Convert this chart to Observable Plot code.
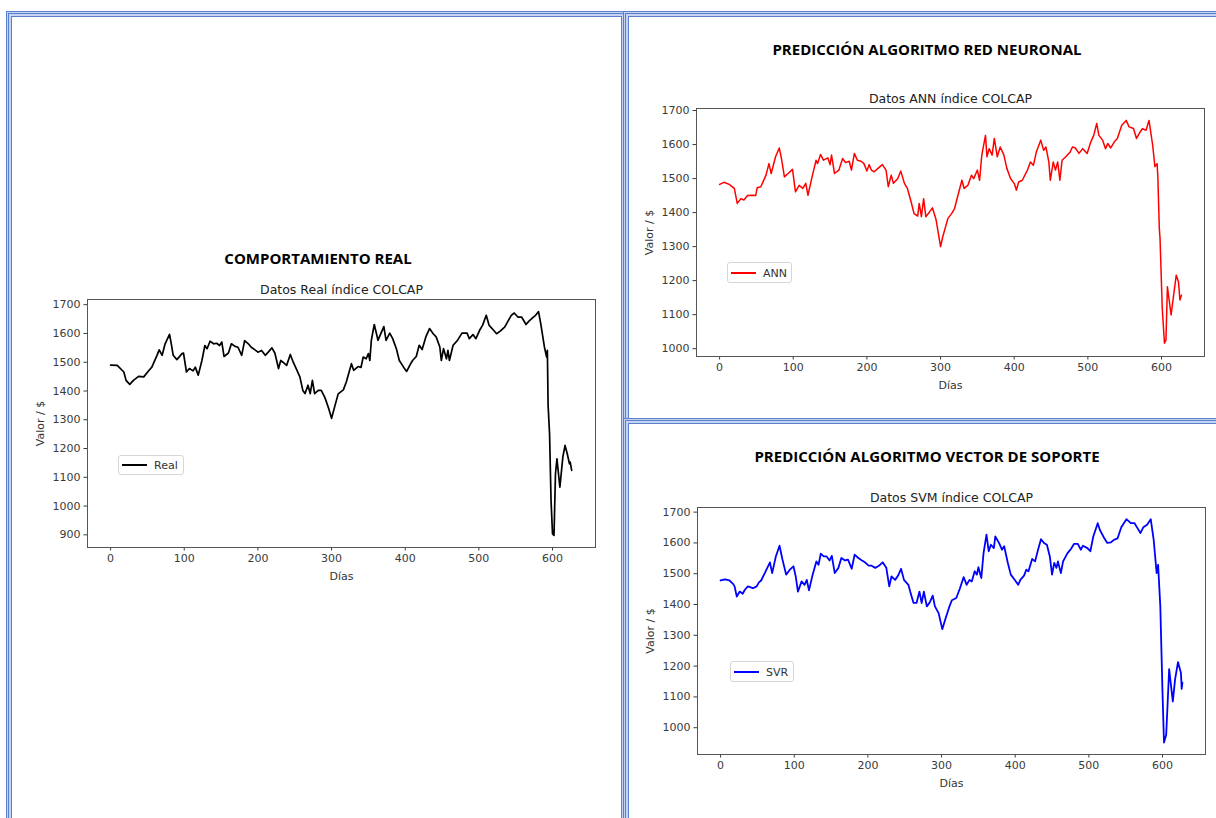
<!DOCTYPE html>
<html><head><meta charset="utf-8">
<script src="https://cdn.jsdelivr.net/npm/d3@7"></script>
<script src="https://cdn.jsdelivr.net/npm/@observablehq/plot@0.6"></script>
<style>
html,body{margin:0;padding:0;background:#fff;}
#page{position:relative;width:1216px;height:818px;overflow:hidden;background:#fff;}
.panel{position:absolute;box-sizing:border-box;border:1px solid #5b7fcf;
  box-shadow:inset 0 0 0 1px #c5d4f2, inset 0 0 0 2px #5b7fcf, inset 0 0 0 4px #c5d4f2, inset 0 0 0 5px #5b7fcf;background:#fff;}
.sec{position:absolute;transform:translate(-50%,-50%);font-family:"Open Sans";font-weight:700;font-size:15px;color:#000;white-space:nowrap;}
.chart{position:absolute;}
.legend{position:absolute;box-sizing:border-box;border:1px solid #d6d6d6;border-radius:3px;background:#fff;font-family:"DejaVu Sans";font-size:11px;color:#333;}
.legend .sw{position:absolute;height:2px;}
.legend .lb{position:absolute;transform:translateY(-50%);line-height:1;}
</style>
</head><body>
<div id="page"></div>
<script>
// ---------- data ----------
const xTicks = [0, 100, 200, 300, 400, 500, 600];
const yTicksReal = [900, 1000, 1100, 1200, 1300, 1400, 1500, 1600, 1700];
const yTicksPred = [1000, 1100, 1200, 1300, 1400, 1500, 1600, 1700];

const realDays = [0,9,18,21,26,31,38,45,52,56,63,66,70,74,80,82,85,90,97,99,103,107,112,115,119,124,128,131,135,140,144,148,151,154,160,164,169,173,178,182,187,191,196,200,205,210,214,219,223,228,231,234,239,244,248,252,257,261,264,268,271,274,277,282,286,291,296,300,304,309,316,320,327,330,336,340,343,347,350,352,354,358,361,363,365,371,374,379,383,388,392,398,402,406,410,415,419,423,428,433,438,442,447,449,452,456,458,460,465,471,477,484,487,492,496,501,505,510,514,520,524,529,535,539,544,548,553,558,564,568,574,577,581,584,589,592,593,594,596,598,600,602,604,606,610,614,617,620,623,624,626];
const realValues = [1490,1489,1466,1437,1423,1437,1451,1449,1471,1483,1524,1543,1524,1564,1597,1570,1524,1509,1530,1532,1466,1478,1470,1483,1455,1506,1558,1547,1573,1564,1566,1558,1570,1520,1532,1564,1555,1552,1524,1575,1564,1552,1543,1535,1541,1524,1535,1550,1532,1478,1506,1500,1489,1527,1500,1478,1449,1402,1391,1420,1391,1437,1391,1402,1402,1377,1340,1305,1343,1390,1404,1431,1495,1472,1485,1482,1518,1512,1530,1506,1576,1631,1599,1576,1588,1624,1576,1601,1582,1547,1506,1482,1468,1488,1506,1520,1559,1544,1588,1617,1599,1588,1553,1506,1547,1512,1541,1506,1559,1576,1601,1601,1582,1596,1582,1611,1628,1663,1628,1611,1599,1608,1622,1640,1663,1671,1657,1657,1631,1643,1657,1663,1676,1634,1553,1518,1541,1350,1250,1019,903,898,1112,1164,1066,1170,1211,1182,1147,1153,1124];

const annDays = [0,6,13,20,24,29,33,38,44,49,51,56,63,67,70,76,81,84,88,93,99,103,108,113,117,120,125,131,133,137,141,147,150,152,156,162,167,171,176,179,183,187,192,196,200,203,206,210,215,221,226,229,233,236,242,246,251,255,260,264,269,271,274,277,280,285,289,294,297,300,303,310,315,319,323,329,332,337,342,345,350,353,356,361,363,366,370,373,377,381,386,390,395,400,403,406,411,416,418,422,426,430,436,440,443,447,449,453,456,459,462,465,470,476,479,483,488,493,499,504,508,512,515,520,524,527,531,536,540,546,552,556,562,566,571,574,579,583,588,591,594,595,597,598,601,604,606,608,613,615,620,623,625,627];
const annValues = [1483,1489,1483,1471,1427,1441,1437,1450,1451,1450,1473,1476,1510,1544,1515,1564,1590,1559,1505,1515,1527,1461,1480,1471,1486,1451,1500,1554,1544,1571,1554,1561,1541,1569,1515,1525,1559,1547,1551,1525,1574,1554,1551,1544,1522,1541,1525,1520,1530,1541,1525,1476,1510,1486,1500,1522,1486,1471,1432,1397,1390,1427,1388,1441,1388,1402,1414,1378,1339,1300,1329,1383,1397,1412,1446,1495,1471,1480,1510,1500,1525,1495,1569,1627,1564,1588,1569,1618,1564,1593,1569,1530,1500,1486,1466,1490,1495,1517,1525,1549,1539,1578,1613,1583,1593,1549,1495,1549,1525,1549,1495,1554,1564,1578,1593,1590,1574,1588,1574,1608,1627,1662,1627,1613,1588,1603,1590,1608,1618,1657,1671,1652,1647,1618,1637,1647,1642,1671,1598,1535,1544,1505,1353,1323,1118,1016,1025,1182,1099,1133,1216,1197,1143,1157];

const svrDays = [0,6,12,17,19,22,26,30,33,37,44,49,52,55,60,67,70,75,80,84,89,94,99,102,105,110,114,117,120,125,130,133,136,140,144,148,151,155,160,164,169,173,178,182,187,192,196,201,205,210,214,220,225,229,232,237,241,245,249,255,258,262,266,270,273,276,280,284,288,291,296,301,305,310,314,320,325,330,334,338,341,345,348,350,354,357,361,364,367,371,373,378,382,385,390,394,400,404,407,412,415,418,423,427,431,435,439,443,447,450,453,456,458,462,465,471,475,480,485,489,492,498,502,506,512,515,521,525,530,534,539,544,551,557,562,566,570,574,579,584,588,591,592,594,597,600,602,605,609,614,617,621,625,626,627];
const svrValues = [1478,1482,1478,1467,1459,1426,1442,1435,1448,1459,1453,1459,1472,1478,1502,1537,1502,1556,1591,1546,1497,1513,1524,1491,1442,1475,1464,1480,1446,1497,1540,1529,1565,1556,1556,1543,1558,1502,1519,1551,1543,1546,1516,1562,1551,1543,1537,1526,1526,1519,1524,1537,1519,1459,1491,1480,1494,1516,1480,1464,1437,1405,1405,1442,1405,1442,1394,1407,1429,1394,1372,1320,1351,1389,1414,1421,1453,1489,1464,1480,1475,1508,1497,1521,1486,1567,1627,1573,1594,1583,1621,1600,1578,1589,1535,1497,1478,1464,1480,1494,1513,1508,1548,1540,1578,1612,1600,1594,1556,1497,1535,1519,1540,1502,1540,1567,1578,1597,1597,1578,1591,1583,1573,1621,1664,1642,1615,1600,1602,1610,1615,1651,1677,1664,1664,1648,1632,1651,1659,1677,1610,1529,1502,1529,1394,1112,952,977,1190,1085,1156,1213,1178,1126,1146];

// ---------- layout ----------
const page = document.getElementById("page");
function panel(l, t, w, h) {
  const d = document.createElement("div");
  d.className = "panel";
  Object.assign(d.style, {left: l + "px", top: t + "px", width: w + "px", height: h + "px"});
  page.appendChild(d);
}
panel(6, 11, 621, 830);
panel(623, 11, 600, 413);
panel(623, 418, 600, 420);

function sec(text, cx, cy) {
  const d = document.createElement("div");
  d.className = "sec";
  d.textContent = text;
  d.style.left = cx + "px"; d.style.top = cy + "px";
  page.appendChild(d);
}
sec("COMPORTAMIENTO REAL", 318, 258);
sec("PREDICCIÓN ALGORITMO RED NEURONAL", 927, 49);
sec("PREDICCIÓN ALGORITMO VECTOR DE SOPORTE", 927, 456);

function chart({days, values, color, width, title, yDomain, yTicks, left, top, frameH}) {
  const data = days.map((d, i) => ({day: d, value: values[i]}));
  const svg = Plot.plot({
    width: 575, height: 30 + frameH + 45,
    marginLeft: 57, marginRight: 10, marginTop: 30, marginBottom: 45,
    style: {fontFamily: "DejaVu Sans", fontSize: "11px", color: "#3a3a3a", background: "transparent", overflow: "visible"},
    x: {domain: [-31.35, 658.35], ticks: xTicks, tickFormat: d => String(d), tickSize: 3.5, tickPadding: 3, label: null},
    y: {domain: yDomain, ticks: yTicks, tickFormat: d => String(d), tickSize: 3.5, tickPadding: 3.5, label: null},
    marks: [
      Plot.frame({stroke: "#555"}),
      Plot.line(data, {x: "day", y: "value", stroke: color, strokeWidth: width, strokeLinejoin: "round"}),
      Plot.text([title], {text: d => d, frameAnchor: "top", dy: -6, lineAnchor: "bottom", fontSize: 12.5, fill: "#222"}),
      Plot.text(["Días"], {text: d => d, frameAnchor: "bottom", dy: 29, lineAnchor: "middle", fontSize: 11, fill: "#333"}),
      Plot.text(["Valor / $"], {text: d => d, frameAnchor: "left", dx: -47, rotate: -90, textAnchor: "middle", lineAnchor: "middle", fontSize: 11, fill: "#333"})
    ]
  });
  svg.classList.add("chart");
  svg.style.left = left + "px"; svg.style.top = top + "px"; svg.style.position = "absolute";
  page.appendChild(svg);
}

function legend(l, t, w, h, color, label) {
  const d = document.createElement("div");
  d.className = "legend";
  Object.assign(d.style, {left: l + "px", top: t + "px", width: w + "px", height: h + "px"});
  const sw = document.createElement("div");
  sw.className = "sw";
  Object.assign(sw.style, {left: "3px", top: (h / 2 - 2) + "px", width: "25px", background: color});
  const lb = document.createElement("div");
  lb.className = "lb";
  lb.textContent = label;
  Object.assign(lb.style, {left: "35px", top: (h / 2 - 1) + "px"});
  d.appendChild(sw); d.appendChild(lb);
  page.appendChild(d);
}

chart({days: realDays, values: realValues, color: "#000", width: 1.7, title: "Datos Real índice COLCAP",
  yDomain: [856, 1718], yTicks: yTicksReal, left: 30, top: 269, frameH: 248});
chart({days: annDays, values: annValues, color: "#ff0000", width: 1.5, title: "Datos ANN índice COLCAP",
  yDomain: [977, 1706], yTicks: yTicksPred, left: 639, top: 78, frameH: 248});
chart({days: svrDays, values: svrValues, color: "#0000ff", width: 1.8, title: "Datos SVM índice COLCAP",
  yDomain: [913, 1715], yTicks: yTicksPred, left: 640, top: 477, frameH: 247});

legend(118, 455, 66, 20, "#000", "Real");
legend(727, 262, 65, 21, "#ff0000", "ANN");
legend(730, 661, 64, 21, "#0000ff", "SVR");
</script>
</body></html>
